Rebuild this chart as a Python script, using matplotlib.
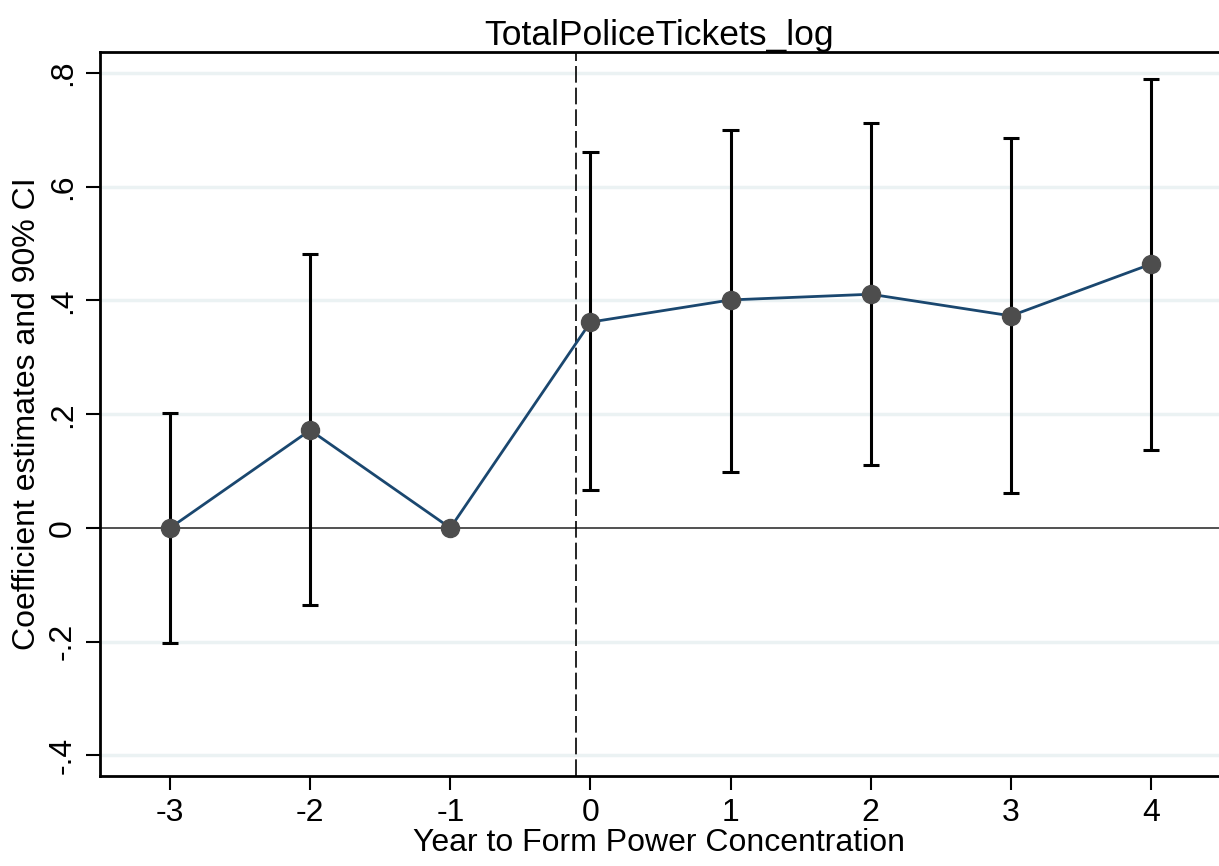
import matplotlib.pyplot as plt
import numpy as np

plt.rcParams['font.family'] = ['Liberation Sans', 'DejaVu Sans']

# Event-study coefficients
years = [-3, -2, -1, 0, 1, 2, 3, 4]
coef = [0.0, 0.172, 0.0, 0.362, 0.401, 0.411, 0.373, 0.464]
ci_low = [-0.203, -0.135, np.nan, 0.067, 0.098, 0.111, 0.062, 0.137]
ci_high = [0.202, 0.482, np.nan, 0.661, 0.700, 0.712, 0.686, 0.789]
yticks = [-0.4, -0.2, 0, 0.2, 0.4, 0.6, 0.8]
ytick_labels = ["-.4", "-.2", "0", ".2", ".4", ".6", ".8"]

fig = plt.figure(figsize=(12.19, 8.66), dpi=100)
ax = fig.add_axes([0.082, 0.104, 0.918, 0.836])

# grid + reference lines
for t in yticks:
    if t != 0:
        ax.axhline(t, color="#ebf2f3", lw=2.5, zorder=0)
ax.axhline(0, color="#333333", lw=1.2, zorder=1)
ax.axvline(-0.1, color="black", lw=1.2, ls=(0, (10, 3)), zorder=1)

# confidence intervals
x = np.array(years)
lo = np.array(ci_low)
hi = np.array(ci_high)
ok = ~np.isnan(lo)
ax.vlines(x[ok], lo[ok], hi[ok], color="black", lw=2.2, zorder=2)
ax.hlines(lo[ok], x[ok] - 0.058, x[ok] + 0.058, color="black", lw=2.2, zorder=2)
ax.hlines(hi[ok], x[ok] - 0.058, x[ok] + 0.058, color="black", lw=2.2, zorder=2)

ax.plot(years, coef, color="#1a476f", lw=2, zorder=3)
ax.plot(years, coef, "o", color="#4d4d4d", ms=13, zorder=4)

ax.set_xlim(-3.5, 4.485)
ax.set_ylim(-0.436, 0.837)
ax.set_xticks(years)
ax.set_xticklabels([str(v) for v in years])
ax.set_yticks(yticks)
ax.set_yticklabels(ytick_labels, rotation=90, va="center")

ax.tick_params(axis="both", labelsize=23, length=10, width=1.5, pad=6)
ax.spines["right"].set_visible(False)
for s in ["left", "bottom", "top"]:
    ax.spines[s].set_linewidth(2)

ax.set_title("TotalPoliceTickets_log", fontsize=25.5, pad=5)
ax.set_xlabel("Year to Form Power Concentration", fontsize=23, labelpad=0)
ax.set_ylabel("Coefficient estimates and 90% CI", fontsize=23, labelpad=4)

plt.savefig("out.png", dpi=100)
